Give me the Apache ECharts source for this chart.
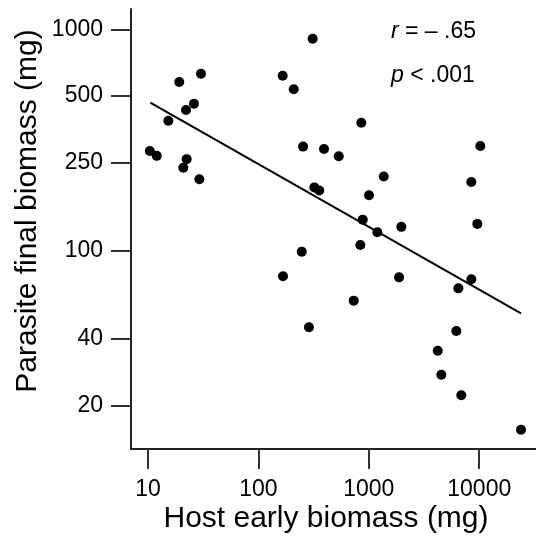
<!DOCTYPE html>
<html>
<head>
<meta charset="utf-8">
<script src="https://cdn.jsdelivr.net/npm/echarts@6/dist/echarts.min.js"></script>
<style>
html,body{margin:0;padding:0;background:#fff;}
#chart{width:536px;height:538px;}
</style>
</head>
<body>
<div id="chart"></div>
<script>
// Data
const hostBiomass = [10.4, 12.0, 15.3, 19.2, 20.9, 22.4, 22.1, 26.1, 30.2, 29.2,
  166, 209, 310, 254, 393, 321, 356, 855, 534, 10230,
  1365, 1004, 8480, 881, 1194, 1970, 9610, 838, 1878, 730,
  6470, 8480, 6200, 4210, 4535, 6880, 23900, 247, 167, 287];
const parasiteBiomass = [282, 268, 386, 578, 237, 259, 432, 461, 630, 210,
  617, 536, 907, 295, 288, 193, 187, 378, 267, 297,
  216, 178, 204, 138, 121, 128, 132, 106, 75.7, 59.4,
  67.5, 74.2, 43.3, 35.3, 27.5, 22.2, 15.5, 98.9, 76.5, 45.0];
const fitX = [10.5, 23900];
const fitY = [466, 52.1];
const xTicks = [10, 100, 1000, 10000];
const yTicks = [20, 40, 100, 250, 500, 1000];
const xTitle = 'Host early biomass (mg)';
const yTitle = 'Parasite final biomass (mg)';

const FONT = "'Liberation Sans', Arial, sans-serif";
const chart = echarts.init(document.getElementById('chart'), null, {renderer: 'canvas'});

const points = hostBiomass.map((x, i) => [x, parasiteBiomass[i]]);
const fitLine = fitX.map((x, i) => [x, fitY[i]]);

const axisCommon = {
  type: 'log',
  logBase: 10,
  splitLine: {show: false},
  minorTick: {show: false},
  axisLine: {show: true, onZero: false, lineStyle: {color: '#222', width: 2}},
};

chart.setOption({
  animation: false,
  backgroundColor: '#ffffff',
  grid: {left: 131, top: 9, right: 0, bottom: 89, containLabel: false},
  xAxis: Object.assign({}, axisCommon, {
    min: 7.02, max: 32660,
    axisTick: {show: true, length: 20, customValues: xTicks, lineStyle: {color: '#333', width: 2}},
    axisLabel: {customValues: xTicks, fontSize: 23, color: '#000', fontFamily: FONT, margin: 29,
      formatter: v => String(Math.round(v))}
  }),
  yAxis: Object.assign({}, axisCommon, {
    min: 12.69, max: 1235,
    axisTick: {show: true, length: 20, customValues: yTicks, lineStyle: {color: '#333', width: 2}},
    axisLabel: {customValues: yTicks, fontSize: 23, color: '#000', fontFamily: FONT, margin: 28,
      formatter: v => String(Math.round(v))}
  }),
  graphic: [
    {type: 'text', x: 326, y: 519, style: {text: xTitle, font: '30px ' + FONT, fill: '#000',
      align: 'center', verticalAlign: 'middle'}},
    {type: 'text', rotation: Math.PI / 2, x: 28, y: 211,
      style: {text: yTitle, font: '30px ' + FONT, fill: '#000', align: 'center', verticalAlign: 'middle'}},
    {type: 'text', x: 391, y: 32, style: {
      text: '{i|r} = – .65', font: '23px ' + FONT, fill: '#000', verticalAlign: 'middle',
      rich: {i: {fontStyle: 'italic', fontSize: 23, fontFamily: FONT, fill: '#000'}}}},
    {type: 'text', x: 391, y: 76, style: {
      text: '{i|p} < .001', font: '23px ' + FONT, fill: '#000', verticalAlign: 'middle',
      rich: {i: {fontStyle: 'italic', fontSize: 23, fontFamily: FONT, fill: '#000'}}}}
  ],
  series: [
    {type: 'line', data: fitLine, symbol: 'none', silent: true,
      lineStyle: {color: '#000', width: 2}, z: 2},
    {type: 'scatter', data: points, symbol: 'circle', symbolSize: 10,
      itemStyle: {color: '#000', opacity: 1}, z: 3}
  ]
});
</script>
</body>
</html>
